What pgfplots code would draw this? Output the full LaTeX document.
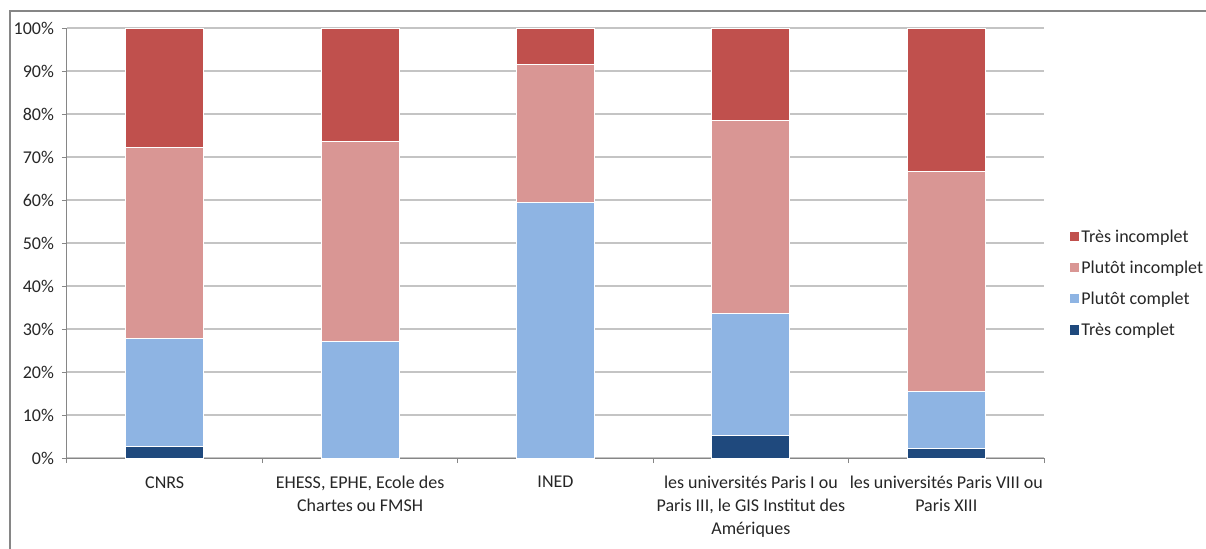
\documentclass[border=0pt]{standalone}
\usepackage{pgfplots}
\pgfplotsset{compat=1.18}
\usepackage{fontspec}
\setmainfont{Carlito}
\definecolor{tinc}{HTML}{C0504D}
\definecolor{pinc}{HTML}{D99694}
\definecolor{pcom}{HTML}{8EB4E3}
\definecolor{tcom}{HTML}{1F497D}
\definecolor{axgray}{HTML}{868686}
\definecolor{gridgray}{HTML}{C4C4C4}

\begin{document}
\begin{tikzpicture}
\useasboundingbox (0pt,0pt) rectangle (904.5pt,-411.75pt);
\draw[axgray, line width=0.9pt] (7.5pt,-8.25pt) rectangle (930pt,-430pt);
\begin{axis}[
  at={(50.25pt,-343.5pt)}, anchor=south west,
  width=732.75pt, height=322.5pt, scale only axis,
  ybar stacked, bar width=58.5pt,
  xmin=-0.5, xmax=4.5, ymin=0, ymax=100,
  axis lines*=left,
  axis line style={axgray, line width=0.75pt},
  tick align=outside, major tick length=3.75pt,
  tick style={axgray, line width=0.75pt},
  ytick={0,10,...,100},
  yticklabel={\pgfmathprintnumber{\tick}\%},
  /pgf/number format/assume math mode=true,
  ymajorgrids, grid style={gridgray, line width=0.9pt},
  xtick={-0.5,0.5,...,4.5},
  x tick label as interval,
  xticklabels={CNRS,
    {EHESS, EPHE, Ecole des\\Chartes ou FMSH},
    INED,
    {les universités Paris I ou\\Paris III, le GIS Institut des\\Amériques},
    {les universités Paris VIII ou\\Paris XIII}},
  xticklabel style={align=center, font=\fontsize{13.5}{17.2}\selectfont, text=black!85, yshift=-6.5pt},
  yticklabel style={font=\fontsize{13.5}{15}\selectfont, text=black!85, xshift=-2.5pt},
  every axis plot/.append style={draw=white, line width=0.75pt},
  reverse legend,
  legend cell align=left,
  legend image code/.code={\fill[#1,draw=none] (0pt,-3.4pt) rectangle (6.8pt,3.4pt);},
  legend style={draw=none, fill=none, at={(1.026,0.406)}, anchor=west,
    font=\fontsize{13.5}{15}\selectfont, row sep=8.4pt, inner sep=0pt,
    text=black!85},
]
\addplot[fill=tcom] coordinates {(0,2.6) (1,0) (2,0) (3,5.3) (4,2.1)};
\addplot[fill=pcom] coordinates {(0,25.2) (1,27.2) (2,59.5) (3,28.4) (4,13.4)};
\addplot[fill=pinc] coordinates {(0,44.4) (1,46.5) (2,32.1) (3,44.9) (4,51.2)};
\addplot[fill=tinc] coordinates {(0,27.8) (1,26.3) (2,8.4) (3,21.4) (4,33.3)};
\legend{Très complet, Plutôt complet, Plutôt incomplet, Très incomplet}
\end{axis}
\end{tikzpicture}
\end{document}
